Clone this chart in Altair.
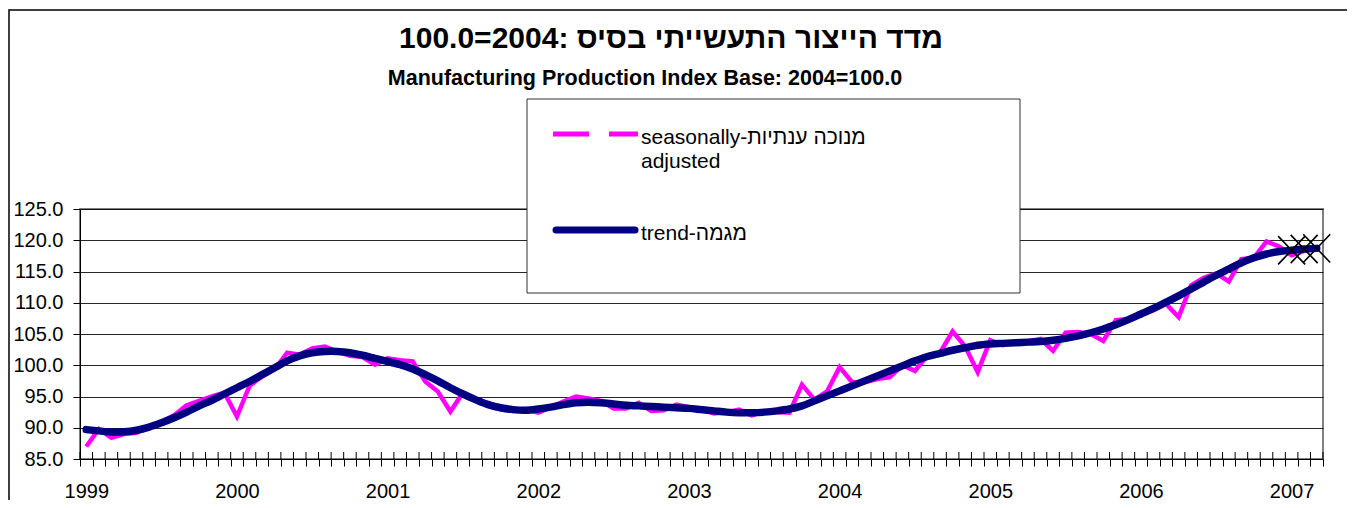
import altair as alt
import pandas as pd

years = ["1999", "2000", "2001", "2002", "2003", "2004", "2005", "2006", "2007"]

seasonal = [
    87.0, 89.8, 88.4, 89.0, 89.2, 90.2, 91.0, 92.0, 93.6, 94.3, 95.0, 95.6,
    91.8, 96.7, 98.2, 99.3, 102.0, 101.7, 102.7, 103.0, 102.2, 101.5, 101.3, 100.1,
    101.1, 100.8, 100.6, 97.4, 95.8, 92.6, 95.6, 94.6, 94.0, 93.0, 92.7, 92.9,
    92.4, 93.3, 94.2, 95.0, 94.7, 94.3, 93.1, 93.1, 94.0, 92.7, 92.8, 93.7,
    93.3, 92.9, 92.3, 92.5, 92.9, 92.0, 92.6, 92.5, 92.4, 96.9, 94.5, 95.8,
    99.7, 97.3, 97.3, 97.8, 98.1, 100.0, 99.1, 101.6, 102.0, 105.4, 103.0, 98.9,
    104.0, 103.2, 103.6, 103.8, 104.2, 102.3, 105.2, 105.3, 105.0, 103.9, 107.2, 107.4,
    108.0, 108.8, 109.8, 107.7, 112.8, 114.0, 114.7, 113.4, 117.0, 117.2, 119.8, 119.0,
    117.6, 118.3, 118.6,
]

trend = [
    89.7, 89.5, 89.3, 89.35, 89.6, 90.1, 90.8, 91.6, 92.5, 93.5, 94.4, 95.4,
    96.4, 97.4, 98.5, 99.6, 100.7, 101.5, 102.0, 102.2, 102.2, 102.0, 101.6, 101.1,
    100.6, 100.1, 99.4, 98.5, 97.5, 96.4, 95.4, 94.5, 93.7, 93.2, 92.9, 92.8,
    93.0, 93.3, 93.7, 94.0, 94.1, 94.0, 93.8, 93.6, 93.5, 93.4, 93.3, 93.2,
    93.1, 92.9, 92.7, 92.5, 92.4, 92.4, 92.5, 92.7, 93.0, 93.5, 94.3, 95.1,
    95.9, 96.7, 97.5, 98.3, 99.1, 99.9, 100.7, 101.4, 101.9, 102.4, 102.8, 103.2,
    103.4, 103.5, 103.6, 103.7, 103.8, 104.0, 104.3, 104.7, 105.2, 105.8, 106.5, 107.3,
    108.2, 109.1, 110.1, 111.1, 112.2, 113.3, 114.4, 115.4, 116.4, 117.2, 117.8, 118.2,
    118.4, 118.6, 118.7,
]

n_marked = 3  # last trend points drawn with X markers

title_he = "מדד הייצור התעשייתי בסיס :2004=100.0"
title_en = "Manufacturing Production Index Base: 2004=100.0"
legend_seasonal = ["seasonally-מנוכה ענתיות", "adjusted"]
legend_trend = "trend-מגמה"

FONT = "Liberation Sans"
n = len(trend)

df = pd.DataFrame({
    "m": [i + 0.5 for i in range(n)],
    "seasonal": seasonal,
    "trend": trend,
})
df_mark = df.iloc[n - n_marked:]
df_bounds = pd.DataFrame({"m": list(range(n + 1))})

label_arr = "[" + ",".join("'%s'" % y for y in years) + "]"
xaxis = alt.Axis(
    values=list(range(n + 1)),
    labelExpr="datum.value % 12 == 0 ? " + label_arr + "[datum.value / 12] : ''",
    labelOffset=6.28, labelOverlap=False, labelFlush=False, labelAngle=0,
    tickSize=7, tickColor="black", domainColor="black", domainWidth=1,
    labelFont=FONT, labelFontSize=20, labelColor="black", labelPadding=15,
    grid=False, title=None,
)
xscale = alt.Scale(domain=[0, n], nice=False, zero=False)
yaxis = alt.Axis(
    values=list(range(85, 130, 5)), format=".1f",
    grid=True, gridColor="black", gridWidth=1, gridOpacity=0.85,
    tickSize=7, tickColor="black", domainColor="black", domainWidth=1,
    labelFont=FONT, labelFontSize=20, labelColor="black", labelPadding=10,
    title=None,
)
yscale = alt.Scale(domain=[85, 125], nice=False, zero=False)

inner_ticks = alt.Chart(df_bounds).mark_rule(color="black", strokeWidth=1).encode(
    x=alt.X("m:Q", scale=xscale, axis=xaxis),
    y=alt.value(243), y2=alt.value(250),
)

seasonal_line = alt.Chart(df).mark_line(color="#FF00FF", strokeWidth=4.5).encode(
    x=alt.X("m:Q", scale=xscale, axis=xaxis),
    y=alt.Y("seasonal:Q", scale=yscale, axis=yaxis),
)

trend_line = alt.Chart(df).mark_line(
    color="#000080", strokeWidth=7.5, interpolate="catmull-rom", strokeCap="round"
).encode(
    x=alt.X("m:Q", scale=xscale, axis=xaxis),
    y=alt.Y("trend:Q", scale=yscale, axis=yaxis),
)

xmarks = alt.Chart(df_mark).mark_point(
    shape="M-1,-1.05L1,1.05M1,-1.05L-1,1.05", filled=False,
    stroke="black", strokeWidth=1.6, size=729, opacity=1,
).encode(
    x=alt.X("m:Q", scale=xscale, axis=xaxis),
    y=alt.Y("trend:Q", scale=yscale, axis=yaxis),
)

one = pd.DataFrame({"k": [0]})

legend_box = alt.Chart(one).mark_rect(fill="white", stroke="#303030", strokeWidth=1).encode(
    x=alt.value(447), x2=alt.value(940), y=alt.value(-110), y2=alt.value(84),
)
legend_dash = alt.Chart(one).mark_rule(
    color="#FF00FF", strokeWidth=5, strokeDash=[36, 20]
).encode(x=alt.value(473), x2=alt.value(558), y=alt.value(-75))
legend_solid = alt.Chart(one).mark_rule(
    color="#000080", strokeWidth=7, strokeCap="round"
).encode(x=alt.value(476), x2=alt.value(555), y=alt.value(21))
legend_text1 = alt.Chart(pd.DataFrame({"t": [legend_seasonal]})).mark_text(
    font=FONT, fontSize=21, color="black", align="left", baseline="alphabetic",
    lineHeight=24,
).encode(x=alt.value(561), y=alt.value(-65), text="t")
legend_text2 = alt.Chart(pd.DataFrame({"t": [legend_trend]})).mark_text(
    font=FONT, fontSize=21, color="black", align="left", baseline="alphabetic",
).encode(x=alt.value(561), y=alt.value(31), text="t")

t1 = alt.Chart(pd.DataFrame({"t": [title_he]})).mark_text(
    font=FONT, fontSize=30, fontWeight="bold", color="black", align="center",
    baseline="alphabetic",
).encode(x=alt.value(591), y=alt.value(-161), text="t")
t2 = alt.Chart(pd.DataFrame({"t": [title_en]})).mark_text(
    font=FONT, fontSize=21.5, fontWeight="bold", color="black", align="center",
    baseline="alphabetic",
).encode(x=alt.value(565), y=alt.value(-124), text="t")

border = alt.Chart(one).mark_rect(fillOpacity=0, stroke="black", strokeWidth=1.5).encode(
    x=alt.value(-71), x2=alt.value(1268), y=alt.value(-199), y2=alt.value(420),
)

chart = alt.layer(
    border, inner_ticks, seasonal_line, trend_line, xmarks,
    legend_box, legend_dash, legend_solid, legend_text1, legend_text2, t1, t2,
).properties(
    width=1243, height=250,
    autosize=alt.AutoSizeParams(type="none"),
    padding={"left": 72, "top": 201, "right": 24, "bottom": 41},
    background="white",
).configure_view(stroke="#808080", strokeWidth=2)

chart.save("out.html", embed_options={"renderer": "svg", "actions": False})
